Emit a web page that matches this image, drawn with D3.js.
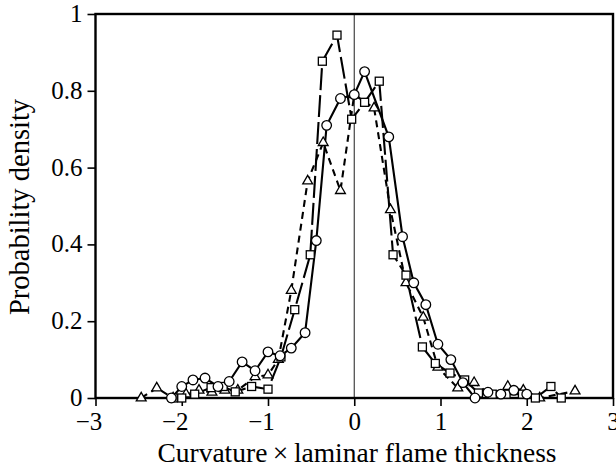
<!DOCTYPE html>
<html><head><meta charset="utf-8">
<script src="https://cdn.jsdelivr.net/npm/d3@7"></script>
<style>
body{margin:0;background:#fff}
svg{display:block}
text{font-family:"Liberation Serif","Times New Roman",serif;fill:#000}
</style>
</head><body>
<svg id="c" width="616" height="471"></svg>
<script>
// ---- data ----
const circX = [-2.12,-2.0,-1.87,-1.73,-1.58,-1.45,-1.3,-1.15,-1.0,-0.86,-0.73,-0.57,-0.44,-0.32,-0.16,0.0,0.12,0.40,0.56,0.69,0.83,0.97,1.12,1.26,1.4,1.55,1.7,1.85,2.0];
const circY = [0.0,0.03,0.047,0.052,0.03,0.043,0.094,0.071,0.12,0.11,0.13,0.17,0.41,0.71,0.78,0.79,0.85,0.68,0.42,0.30,0.243,0.14,0.10,0.04,0.0,0.015,0.01,0.02,0.01];

const sqX = [-2.1,-2.0,-1.85,-1.66,-1.52,-1.38,-1.19,-1.0,-0.85,-0.69,-0.51,-0.37,-0.2,-0.03,0.12,0.29,0.45,0.6,0.79,0.94,1.11,1.28,1.44,1.6,1.76,1.95,2.1,2.28,2.4];
const sqY = [0.0,0.0,0.01,0.027,0.03,0.016,0.03,0.023,0.107,0.23,0.373,0.877,0.945,0.726,0.77,0.825,0.373,0.32,0.133,0.09,0.065,0.047,0.013,0.01,0.01,0.01,0.0,0.03,0.0];

const triX = [-2.47,-2.29,-2.1,-1.95,-1.8,-1.65,-1.5,-1.35,-1.15,-1.0,-0.88,-0.73,-0.54,-0.36,-0.16,0.0,0.23,0.42,0.6,0.8,0.97,1.2,1.39,1.58,1.78,1.96,2.15,2.56];
const triY = [0.0,0.026,0.0,0.01,0.02,0.015,0.02,0.02,0.055,0.06,0.1,0.28,0.565,0.665,0.54,0.79,0.755,0.49,0.30,0.21,0.08,0.026,0.04,0.01,0.03,0.02,0.0,0.018];

const xTicks = [-3,-2,-1,0,1,2,3];
const yTicks = [0,0.2,0.4,0.6,0.8,1];
const xTitle = "Curvature\u2009\u00d7\u2009laminar flame thickness";
const yTitle = "Probability density";

// ---- drawing ----
const svg = d3.select("#c");
const x = d3.scaleLinear().domain([-3,3]).range([95.5,613]);
const y = d3.scaleLinear().domain([0,1]).range([398,14]);

// zero line
svg.append("line").attr("x1",x(0)).attr("x2",x(0)).attr("y1",y(0)).attr("y2",y(1))
  .attr("stroke","#333").attr("stroke-width",1.1);

// frame
svg.append("rect").attr("x",x(-3)).attr("y",y(1)).attr("width",x(3)-x(-3)).attr("height",y(0)-y(1))
  .attr("fill","none").attr("stroke","#000").attr("stroke-width",2.4);

const fmtY = d => d===0?"0":d===1?"1":d3.format(".1f")(d);
const gy = svg.append("g").attr("transform",`translate(${x(-3)},0)`)
  .call(d3.axisLeft(y).tickValues(yTicks).tickFormat(fmtY).tickSize(8).tickPadding(5));
gy.select(".domain").remove();
gy.selectAll("line").attr("stroke","#000").attr("stroke-width",1.6);
gy.selectAll("text").style("font-size","25px").attr("dy","0.3em");

const fmtX = d => d<0 ? "\u2212"+Math.abs(d) : String(d);
const gx = svg.append("g").attr("transform",`translate(0,${y(0)})`)
  .call(d3.axisBottom(x).tickValues(xTicks).tickFormat(fmtX).tickSize(8).tickPadding(6));
gx.select(".domain").remove();
gx.selectAll("line").attr("stroke","#000").attr("stroke-width",1.6);
gx.selectAll("text").style("font-size","25px").attr("dx",d=>d<0?-7:0);

// titles
svg.append("text").attr("x",357).attr("y",462).attr("text-anchor","middle")
  .style("font-size","27.5px").text(xTitle);
svg.append("text").attr("transform","translate(29,207) rotate(-90)").attr("text-anchor","middle")
  .style("font-size","28.5px").text(yTitle);

const line = d3.line().x(d=>x(d[0])).y(d=>y(d[1]));
const zip = (a,b)=>a.map((v,i)=>[v,b[i]]);

const circ = zip(circX,circY), sq = zip(sqX,sqY), tri = zip(triX,triY);

svg.append("path").datum(tri).attr("d",line).attr("fill","none").attr("stroke","#000")
  .attr("stroke-width",2.1).attr("stroke-dasharray","7,5");
svg.append("path").datum(sq).attr("d",line).attr("fill","none").attr("stroke","#000")
  .attr("stroke-width",2.1).attr("stroke-dasharray","22,5");
svg.append("path").datum(circ).attr("d",line).attr("fill","none").attr("stroke","#000")
  .attr("stroke-width",2.1);

svg.selectAll(".tri").data(tri).join("path").attr("class","tri")
  .attr("transform",d=>`translate(${x(d[0])},${y(d[1])})`)
  .attr("d",d3.symbol().type(d3.symbolTriangle).size(42))
  .attr("fill","#fff").attr("stroke","#000").attr("stroke-width",1.3);
svg.selectAll(".sq").data(sq).join("rect").attr("class","sq")
  .attr("x",d=>x(d[0])-4).attr("y",d=>y(d[1])-4).attr("width",8).attr("height",8)
  .attr("fill","#fff").attr("stroke","#000").attr("stroke-width",1.3);
svg.selectAll(".ci").data(circ).join("circle").attr("class","ci")
  .attr("cx",d=>x(d[0])).attr("cy",d=>y(d[1])).attr("r",4.8)
  .attr("fill","#fff").attr("stroke","#000").attr("stroke-width",1.3);
</script>
</body></html>
